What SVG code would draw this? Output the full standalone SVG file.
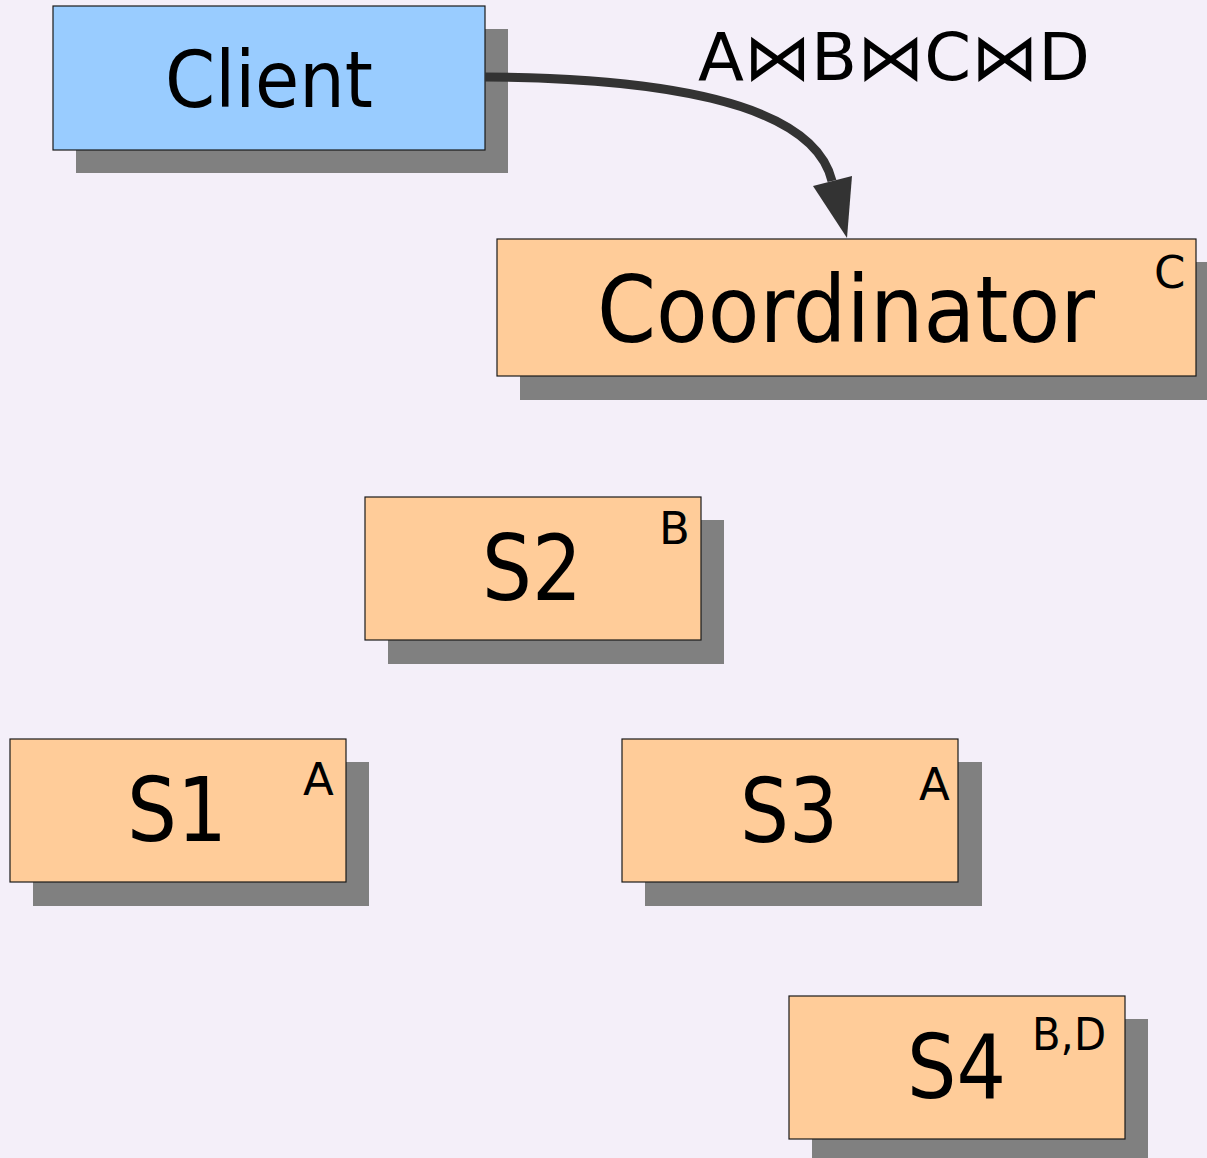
<svg xmlns="http://www.w3.org/2000/svg" width="1207" height="1158" viewBox="0 0 1207 1158">
  <style>
    .shadow { fill: #808080; }
    .box { stroke: #1a1a1a; stroke-width: 1.2; }
    .client { fill: #99ccff; }
    .server { fill: #ffcc99; }
    .big { font-family: "DejaVu Sans", "Liberation Sans", sans-serif; fill: #000; }
    .tag { font-family: "DejaVu Sans", "Liberation Sans", sans-serif; font-size: 45px; fill: #000; }
    .conn { fill: none; stroke: #333333; stroke-width: 9; }
    .head { fill: #333333; }
  </style>
  <rect width="1207" height="1158" fill="#f4eff9"/>

  <g id="client">
    <rect class="shadow" x="76" y="29" width="432" height="144"/>
    <rect class="box client" x="53" y="6" width="432" height="144"/>
    <text class="big" x="165" y="107" font-size="78" textLength="208" lengthAdjust="spacingAndGlyphs">Client</text>
  </g>

  <g id="coordinator">
    <rect class="shadow" x="520" y="262" width="699" height="138"/>
    <rect class="box server" x="497" y="239" width="699" height="137"/>
    <text class="big" x="597" y="342" font-size="92" textLength="498" lengthAdjust="spacingAndGlyphs">Coordinator</text>
    <text class="tag" x="1154" y="288">C</text>
  </g>

  <g id="s2">
    <rect class="shadow" x="388" y="520" width="336" height="144"/>
    <rect class="box server" x="365" y="497" width="336" height="143"/>
    <text class="big" x="482" y="600" font-size="90" textLength="100" lengthAdjust="spacingAndGlyphs">S2</text>
    <text class="tag" x="659" y="544">B</text>
  </g>

  <g id="s1">
    <rect class="shadow" x="33" y="762" width="336" height="144"/>
    <rect class="box server" x="10" y="739" width="336" height="143"/>
    <text class="big" x="127" y="841" font-size="89" textLength="100" lengthAdjust="spacingAndGlyphs">S1</text>
    <text class="tag" x="303" y="795">A</text>
  </g>

  <g id="s3">
    <rect class="shadow" x="645" y="762" width="337" height="144"/>
    <rect class="box server" x="622" y="739" width="336" height="143"/>
    <text class="big" x="740" y="842" font-size="89" textLength="98" lengthAdjust="spacingAndGlyphs">S3</text>
    <text class="tag" x="919" y="800">A</text>
  </g>

  <g id="s4">
    <rect class="shadow" x="812" y="1019" width="336" height="144"/>
    <rect class="box server" x="789" y="996" width="336" height="143"/>
    <text class="big" x="907" y="1098" font-size="89" textLength="99" lengthAdjust="spacingAndGlyphs">S4</text>
    <text class="tag" x="1032" y="1050" textLength="74" lengthAdjust="spacingAndGlyphs">B,D</text>
  </g>

  <g id="connectors">
    <path class="conn" d="M485,77 C645,78 812,98 832,181"/>
    <polygon class="head" points="813,186 852,176 847,238"/>
    <text class="big" x="698" y="80" font-size="66" textLength="392" lengthAdjust="spacingAndGlyphs">A⋈B⋈C⋈D</text>
  </g>
</svg>
